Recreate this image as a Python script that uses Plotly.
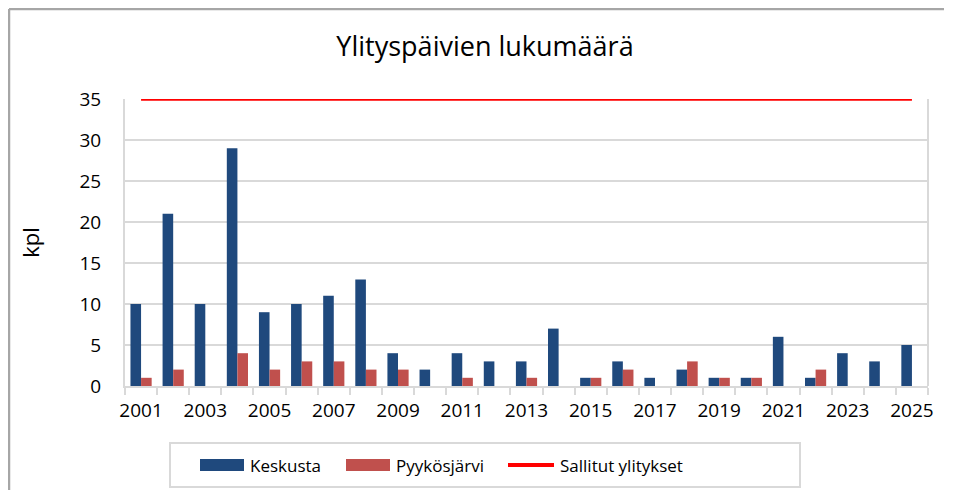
import plotly.graph_objects as go

years = list(range(2001, 2026))
keskusta = [10, 21, 10, 29, 9, 10, 11, 13, 4, 2, 4, 3, 3, 7, 1, 3, 1, 2, 1, 1, 6, 1, 4, 3, 5]
pyykosjarvi = [1, 2, 0, 4, 2, 3, 3, 2, 2, 0, 1, 0, 1, 0, 1, 2, 0, 3, 1, 1, 0, 2, 0, 0, 0]
sallitut = [35] * len(years)
x_tick_labels = [str(y) for y in range(2001, 2026, 2)]
y_ticks = [0, 5, 10, 15, 20, 25, 30, 35]
series_names = ["Keskusta", "Pyykösjärvi", "Sallitut ylitykset"]
series_colors = ["#1F497D", "#C0504D", "#FF0000"]

# page body has an 8px margin; work in figure coordinates
OFF = 8
W, H = 953 - 2 * OFF, 499 - 2 * OFF
L, R, T, B = 125 - OFF, 928 - OFF, 99 - OFF, 386 - OFF
FONT = "Open Sans"

fig = go.Figure()
fig.add_trace(go.Bar(x=years, y=keskusta, name=series_names[0],
                     marker=dict(color=series_colors[0], line=dict(width=0))))
fig.add_trace(go.Bar(x=years, y=pyykosjarvi, name=series_names[1],
                     marker=dict(color=series_colors[1], line=dict(width=0))))
fig.add_trace(go.Scatter(x=years, y=sallitut, name=series_names[2], mode="lines",
                         line=dict(color=series_colors[2], width=3.5)))

def px(page_x):
    return (page_x - OFF - L) / (R - L)

def py(page_y):
    return (B - (page_y - OFF)) / (B - T)

fig.update_layout(
    width=W, height=H,
    margin=dict(l=L, r=W - R, t=T, b=H - B),
    paper_bgcolor="white", plot_bgcolor="white",
    barmode="group", bargap=0.34, bargroupgap=0,
    showlegend=False,
    font=dict(family=FONT, color="#000000", size=19),
    title=dict(text="Ylityspäivien lukumäärä", x=(485 - OFF) / W, xanchor="center", xref="container",
               y=1 - (47 - OFF) / H, yanchor="middle", yref="container",
               font=dict(family=FONT, size=27, color="#000000")),
    xaxis=dict(
        range=[2000.5, 2025.5],
        tickmode="array",
        tickvals=list(range(2001, 2026, 2)),
        ticktext=x_tick_labels,
        ticks="",
        showgrid=False,
        showline=True, linecolor="#D9D9D9", linewidth=2,
        tickfont=dict(family=FONT, size=19, color="#000000"),
        ticklabelstandoff=6,
        minor=dict(tick0=2000.5, dtick=1, ticks="outside", ticklen=7,
                   tickcolor="#D9D9D9", tickwidth=2, showgrid=False),
        zeroline=False,
    ),
    yaxis=dict(
        range=[0, 35],
        tickmode="array",
        tickvals=y_ticks,
        ticks="",
        showgrid=True, gridcolor="#D9D9D9", gridwidth=2,
        showline=True, linecolor="#D9D9D9", linewidth=2,
        zeroline=False,
        tickfont=dict(family=FONT, size=19, color="#000000"),
        ticklabelstandoff=18,
        title=dict(text="kpl", font=dict(family=FONT, size=22, color="#000000"), standoff=34),
    ),
)

# right border of plot area
fig.add_shape(type="line", xref="paper", yref="paper", x0=1, x1=1, y0=0, y1=1,
              line=dict(color="#D9D9D9", width=2), layer="below")
# outer chart border (top and left edges visible)
fig.add_shape(type="line", xref="paper", yref="paper",
              x0=px(9), x1=px(944), y0=py(9), y1=py(9),
              line=dict(color="#A6A6A6", width=2.5), layer="above")
fig.add_shape(type="line", xref="paper", yref="paper",
              x0=px(9), x1=px(9), y0=py(9), y1=py(490),
              line=dict(color="#A6A6A6", width=2.5), layer="above")

# legend box
fig.add_shape(type="rect", xref="paper", yref="paper",
              x0=px(170), x1=px(800), y0=py(487), y1=py(443),
              line=dict(color="#D9D9D9", width=2), fillcolor="white", layer="above")
swatch_x = [200, 346, 508]
text_x = [248, 394, 558]
legend_y = 465
for i, name in enumerate(series_names):
    if i < 2:
        fig.add_shape(type="rect", xref="paper", yref="paper",
                      x0=px(swatch_x[i]), x1=px(swatch_x[i] + 44),
                      y0=py(legend_y + 6), y1=py(legend_y - 6),
                      line=dict(width=0), fillcolor=series_colors[i], layer="above")
    else:
        fig.add_shape(type="line", xref="paper", yref="paper",
                      x0=px(swatch_x[i]), x1=px(swatch_x[i] + 46),
                      y0=py(legend_y), y1=py(legend_y),
                      line=dict(color=series_colors[i], width=4), layer="above")
    fig.add_annotation(text=name, xref="paper", yref="paper",
                       x=px(text_x[i]), y=py(legend_y), xanchor="left", yanchor="middle",
                       showarrow=False, font=dict(family=FONT, size=17, color="#000000"))

fig.write_html("out.html")
